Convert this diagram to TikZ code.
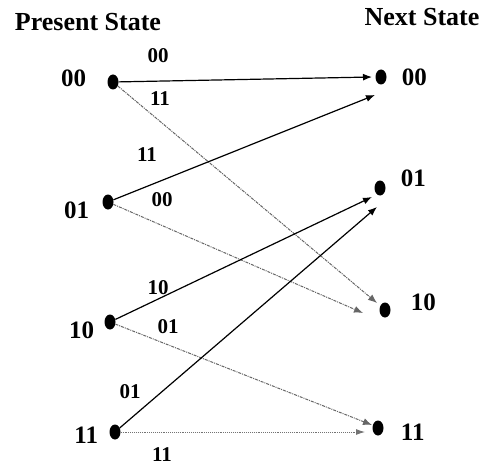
\documentclass[tikz,border=0pt]{standalone}
\usepackage{fontspec}
\setmainfont{Liberation Serif}
\usetikzlibrary{positioning,shapes.geometric,arrows.meta}

\begin{document}
\begin{tikzpicture}[
    x=1pt, y=-1pt,
    dot/.style={ellipse, fill=black, minimum width=11pt, minimum height=15pt, inner sep=0pt},
    statelab/.style={font=\fontsize{25}{25}\selectfont\bfseries, inner sep=1pt},
    edgelab/.style={font=\fontsize{21}{21}\selectfont\bfseries, inner sep=1pt},
    heading/.style={font=\fontsize{26}{26}\selectfont\bfseries, inner sep=1pt},
    solidarr/.style={-{Latex[length=9pt,width=7pt]}, line width=1.2pt},
    dasharr/.style={-{Latex[length=9pt,width=7pt]}, line width=1pt, black!60, densely dashdotted},
    dotarr/.style={-{Latex[length=9pt,width=6pt]}, line width=0.9pt, black!55, densely dotted}
]
    \useasboundingbox (0,0) rectangle (484,468);

    \node[heading] (present) at (88,22) {Present State};
    \node[heading] (next) at (422,17) {Next State};

    % present states
    \node[dot] (l00) at (113,82) {};
    \node[dot] (l01) at (108,202) {};
    \node[dot] (l10) at (110,322) {};
    \node[dot] (l11) at (115,432) {};

    % next states
    \node[dot] (r00) at (381,77) {};
    \node[dot] (r01) at (380,188) {};
    \node[dot] (r10) at (385,310) {};
    \node[dot] (r11) at (378,428) {};

    \node[statelab, left=20pt of l00, yshift=4pt] (l00lab) {00};
    \node[statelab, left=12pt of l01, yshift=-8pt] (l01lab) {01};
    \node[statelab, left=9pt of l10, yshift=-8pt] (l10lab) {10};
    \node[statelab, left=10pt of l11, yshift=-3pt] (l11lab) {11};

    \node[statelab, right=14pt of r00] (r00lab) {00};
    \node[statelab, right=14pt of r01, yshift=10pt] (r01lab) {01};
    \node[statelab, right=19pt of r10, yshift=8pt] (r10lab) {10};
    \node[statelab, right=16pt of r11, yshift=-4pt] (r11lab) {11};

    % transitions
    \draw[solidarr] (l00) -- ([xshift=-9pt]r00.center);
    \draw[dasharr] (l00) -- ([xshift=-8pt,yshift=7pt]r10.center);
    \draw[solidarr] (l01) -- ([xshift=-6pt,yshift=-18pt]r00.center);
    \draw[dasharr] (l01) -- ([xshift=-22pt,yshift=-3pt]r10.center);
    \draw[solidarr] (l10) -- ([xshift=-8pt,yshift=-9pt]r01.center);
    \draw[dasharr] (l10) -- ([xshift=-6pt,yshift=3pt]r11.center);
    \draw[solidarr] (l11) -- ([xshift=-3pt,yshift=-19pt]r01.center);
    \draw[dotarr] (l11) -- ([xshift=-13pt,yshift=-4pt]r11.center);

    \node[edgelab] (e0000) at (158,56) {00};
    \node[edgelab] (e0011) at (160,99) {11};
    \node[edgelab] (e0111) at (147,155) {11};
    \node[edgelab] (e0100) at (162,200) {00};
    \node[edgelab] (e1010) at (158,288) {10};
    \node[edgelab] (e1001) at (168,327) {01};
    \node[edgelab] (e1101) at (130,392) {01};
    \node[edgelab] (e1111) at (162,455) {11};
\end{tikzpicture}
\end{document}
